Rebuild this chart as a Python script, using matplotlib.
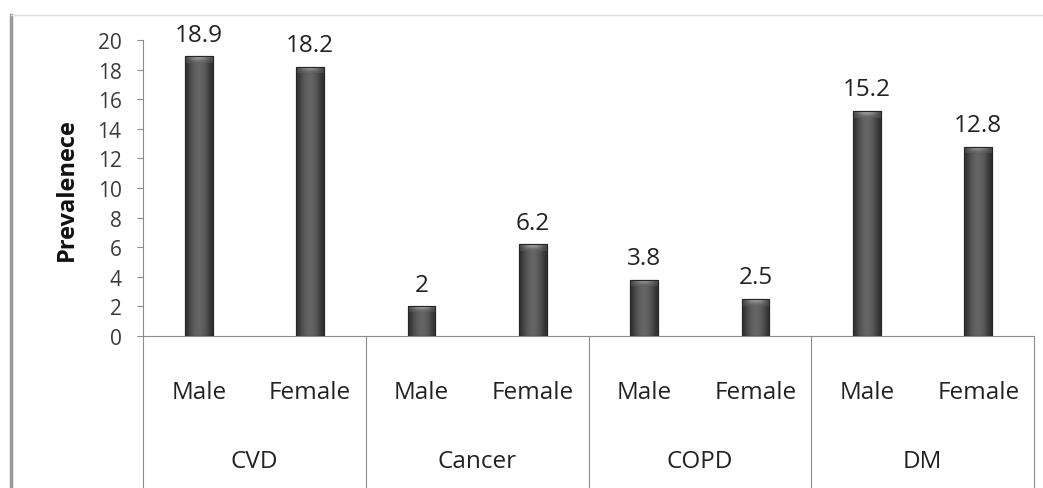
import numpy as np
import matplotlib.pyplot as plt
from matplotlib.lines import Line2D
import matplotlib.transforms as mtransforms

# data
diseases = ['CVD', 'Cancer', 'COPD', 'DM']
sexes = ['Male', 'Female']
values = [18.9, 18.2, 2, 6.2, 3.8, 2.5, 15.2, 12.8]
value_labels = ['18.9', '18.2', '2', '6.2', '3.8', '2.5', '15.2', '12.8']
yticks = [0, 2, 4, 6, 8, 10, 12, 14, 16, 18, 20]

plt.rcParams['font.family'] = ['Open Sans', 'DejaVu Sans']
txt_col = '#3a3a3a'
line_col = '#8c8c8c'

fig = plt.figure(figsize=(10.43, 4.89), dpi=100)
ax = fig.add_axes([143/1043, (489-337)/489, 891/1043, 296/489])

n = len(values)
x = np.arange(n)
bars = ax.bar(x, values, width=0.25, color='#444444', edgecolor='#2a2a2a', linewidth=0.8, zorder=2)

# cylinder shading on each bar
grad = np.array([[0.19, 0.27, 0.34, 0.38, 0.40, 0.38, 0.34, 0.27, 0.19]])
for b in bars:
    x0, w, h = b.get_x(), b.get_width(), b.get_height()
    im = ax.imshow(grad, cmap='gray', vmin=0, vmax=1, aspect='auto', interpolation='bicubic',
                   extent=[x0, x0 + w, 0, h], zorder=3)
    im.set_clip_path(b)
    cap = min(0.45, h * 0.2)
    top = np.array([[0.30, 0.48, 0.60, 0.65, 0.60, 0.48, 0.30]])
    im2 = ax.imshow(np.vstack([top, grad[:, 1:8]]), cmap='gray', vmin=0, vmax=1, aspect='auto',
                    interpolation='bicubic', extent=[x0, x0 + w, h - cap, h], zorder=4)
    im2.set_clip_path(b)
    ax.add_patch(plt.Rectangle((x0, 0), w, h, fill=False, edgecolor='#262626', linewidth=0.8, zorder=5))

for xi, v, lab in zip(x, values, value_labels):
    ax.annotate(lab, (xi, v), xytext=(0, 7), textcoords='offset points', ha='center', va='bottom',
                fontsize=17.5, color='#222222')

ax.set_xlim(-0.5, n - 0.5)
ax.set_ylim(0, 20)
ax.set_yticks(yticks)
ax.tick_params(axis='y', direction='out', length=4.5, width=0.8, color=line_col,
               labelsize=15, labelcolor=txt_col, pad=11)
ax.set_xticks([])
for s in ['top', 'right']:
    ax.spines[s].set_visible(False)
ax.spines['left'].set_color(line_col)
ax.spines['bottom'].set_color(line_col)
ax.spines['left'].set_linewidth(0.8)
ax.spines['bottom'].set_linewidth(0.8)

# multi-level category axis
trans = mtransforms.blended_transform_factory(ax.transData, ax.transAxes)
for i in range(0, n + 1, 2):
    ax.plot([i - 0.5, i - 0.5], [0, -0.52], transform=trans, color=line_col, lw=0.8, clip_on=False)
for i in range(n):
    ax.text(i, -0.19, sexes[i % 2], transform=trans, ha='center', va='center', fontsize=17.5, color='#222222')
for j, d in enumerate(diseases):
    ax.text(2 * j + 0.5, -0.422, d, transform=trans, ha='center', va='center', fontsize=17.5, color='#222222')

fig.text(67/1043, (489-190)/489, 'Prevalenece', rotation=90, ha='center', va='center',
         fontsize=17, fontweight='bold', color='#111111')

# outer frame lines
fig.add_artist(Line2D([11/1043, 11/1043], [0, (489-16)/489], color='#9a9a9a', lw=2.5))
fig.add_artist(Line2D([11/1043, 1], [(489-16)/489, (489-16)/489], color='#dddddd', lw=1))

fig.savefig('out.png', dpi=100, facecolor='white')
